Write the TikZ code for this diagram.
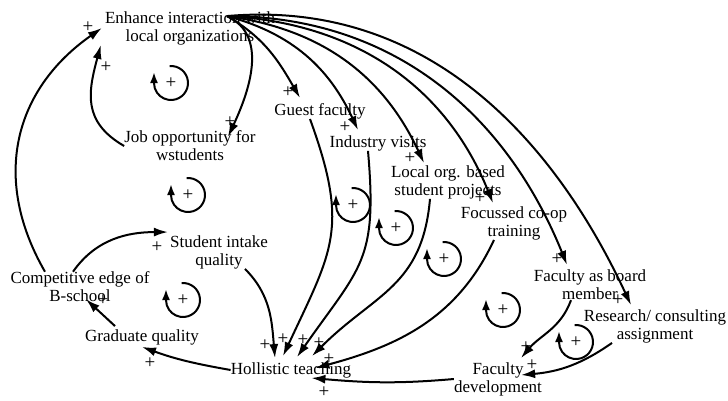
\documentclass[tikz,border=0pt]{standalone}
\usepackage{fontspec}
\setmainfont{Liberation Serif}
\usetikzlibrary{arrows.meta,positioning}

\tikzset{
  factor/.style={font=\fontsize{17}{18}\selectfont, align=center, inner sep=0pt},
  sgn/.style={font=\fontsize{19}{19}\selectfont, inner sep=0pt},
  loopy/.style={line width=2pt, -{Latex[length=11pt,width=8pt]}}
}

\begin{document}
\begin{tikzpicture}[x=1pt,y=1pt,->,>={Latex[length=14pt,width=9pt]},
  every edge/.append style={line width=2pt}]
  \useasboundingbox (0,0) rectangle (728,400);
  % factors
  \node[factor] (E)  at (190,372) {Enhance interaction with\\local organizations};
  \node[factor] (J)  at (190,254) {Job opportunity for\\wstudents};
  \node[factor] (G)  at (320,289) {Guest faculty};
  \node[factor] (I)  at (378,257) {Industry visits};
  \node[factor] (L)  at (448,218) {Local org. based\\student projects};
  \node[factor] (F)  at (514,177) {Focussed co-op\\training};
  \node[factor] (S)  at (219,148) {Student intake\\quality};
  \node[factor] (C)  at (80,113)  {Competitive edge of\\B-school};
  \node[factor] (Gq) at (142,63)  {Graduate quality};
  \node[factor] (H)  at (291,30)  {Hollistic teaching};
  \node[factor] (FB) at (590,115) {Faculty as board\\member};
  \node[factor] (R)  at (655,74)  {Research/ consulting\\assignment};
  \node[factor] (FD) at (498,21)  {Faculty\\development};
  \coordinate (Eport) at ([xshift=37pt,yshift=-5pt]E.north);

  % links
  \path (J.west) edge[out=150,in=-105,looseness=1.2] ([xshift=-4pt]E.south west)
        (Eport) edge[out=-25,in=65]  ([xshift=38pt,yshift=-6pt]J.north)
                edge[out=-30,in=120] ([xshift=-20pt,yshift=5pt]G.north)
                edge[out=-15,in=115] ([xshift=-20pt,yshift=5pt]I.north)
                edge[out=-8,in=115]  ([xshift=-24pt,yshift=2pt]L.north)
                edge[out=-3,in=112]  ([xshift=-21pt,yshift=3pt]F.north)
                edge[out=0,in=112]   ([xshift=-23pt,yshift=5pt]FB.north)
                edge[out=5,in=115]   ([xshift=-24pt,yshift=4pt]R.north);
  \path ([xshift=-35pt]C.north) edge[out=120,in=-145,looseness=1.1] ([xshift=-3pt]E.west)
        ([xshift=-7pt]C.north)  edge[out=55,in=180] ([xshift=-2pt,yshift=3pt]S.north west)
        ([xshift=26pt]S.south)  edge[out=-45,in=95] ([xshift=-16pt,yshift=4pt]H.north)
        (H.west) edge[out=170,in=-20] ([yshift=-2pt]Gq.south)
        ([xshift=-27pt,yshift=3pt]Gq.north) edge ([xshift=6pt,yshift=3pt]C.south);
  \path ([xshift=-10pt]G.south) edge[out=-70,in=65,looseness=1.25] ([xshift=-8pt,yshift=6pt]H.north)
        ([xshift=-10pt]I.south) edge[out=-85,in=55,looseness=1.3] ([xshift=6pt,yshift=5pt]H.north)
        ([xshift=-18pt]L.south) edge[out=-95,in=45,looseness=1.15] ([xshift=21pt,yshift=6pt]H.north)
        ([xshift=-20pt]F.south) edge[out=-115,in=15] ([xshift=-36pt,yshift=2pt]H.east)
        (FD.west) edge[out=-175,in=-5] ([xshift=-40pt,yshift=-8pt]H.east)
        ([xshift=-19pt]FB.south) edge[out=-110,in=50] ([xshift=23pt,yshift=4pt]FD.north)
        ([xshift=-43pt]R.south) edge[out=-145,in=5] ([xshift=-21pt,yshift=4pt]FD.east);

  % polarity signs
  \foreach \px/\py [count=\k] in {106/333,230/278,88/373,157/153,265/55,283/61,303/60,
      319/57,329/41,324/8,150/37,103/100,288/308,345/273,410/242,480/202,557/141,
      618/100,526/53,532/35}
    \node[sgn] (s\k) at (\px,\py) {+};

  % loop markers
  \foreach \cx/\cy [count=\k] in {171/317,188/205,353/195,396/172,444/141,503/90,
      576/58,183/100}{
    \draw[loopy] (\cx,\cy) ++(95:17pt) arc[start angle=95,end angle=-180,radius=17pt]
      -- ++(0,11pt);
    \node[sgn] (r\k) at (\cx,\cy) {+};
  }
\end{tikzpicture}
\end{document}
